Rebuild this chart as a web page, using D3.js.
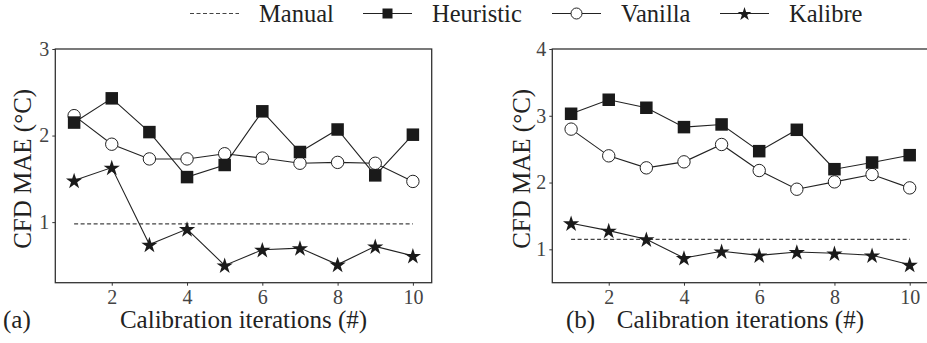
<!DOCTYPE html>
<html>
<head>
<meta charset="utf-8">
<script src="https://d3js.org/d3.v7.min.js"></script>
</head>
<body style="margin:0; background:#fff">
<div id="chart"></div>
<script>
// data
var iterations = [1, 2, 3, 4, 5, 6, 7, 8, 9, 10];

var heuristicA = [2.15, 2.43, 2.04, 1.52, 1.66, 2.28, 1.81, 2.07, 1.54, 2.01];
var vanillaA   = [2.23, 1.90, 1.73, 1.73, 1.79, 1.74, 1.68, 1.69, 1.68, 1.47];
var kalibreA   = [1.48, 1.63, 0.74, 0.92, 0.50, 0.68, 0.70, 0.51, 0.72, 0.61];
var manualA    = 0.98;

var heuristicB = [3.03, 3.24, 3.12, 2.83, 2.87, 2.47, 2.79, 2.20, 2.30, 2.41];
var vanillaB   = [2.80, 2.40, 2.22, 2.31, 2.57, 2.18, 1.90, 2.01, 2.12, 1.92];
var kalibreB   = [1.39, 1.28, 1.15, 0.87, 0.97, 0.91, 0.96, 0.94, 0.91, 0.77];
var manualB    = 1.15;

var xTicks = [2, 4, 6, 8, 10];
var yTicksA = [1, 2, 3];
var yTicksB = [1, 2, 3, 4];

var legendNames = ["Manual", "Heuristic", "Vanilla", "Kalibre"];

var w = 927, h = 343;
var ink = "#222";
var serif = "Liberation Serif";

var svg = d3.select("#chart").append("svg")
  .attr("width", w)
  .attr("height", h);

function drawMarker(g, type, x, y, big) {
  var s = big ? 12.5 : 10;
  if (type == "square") {
    g.append("rect")
      .attr("x", x - s / 2).attr("y", y - s / 2)
      .attr("width", s).attr("height", s)
      .attr("fill", "#1a1a1a");
  } else if (type == "circle") {
    g.append("circle")
      .attr("cx", x).attr("cy", y)
      .attr("r", big ? 6.2 : 5.5)
      .attr("fill", "#fff")
      .attr("stroke", ink).attr("stroke-width", 1);
  } else if (type == "star") {
    g.append("path")
      .attr("d", d3.symbol().type(d3.symbolStar).size(big ? 82 : 58)())
      .attr("transform", "translate(" + x + "," + (y + 0.7) + ")")
      .attr("fill", "#1a1a1a");
  }
}

function label(g, x, y, size, txt) {
  return g.append("text")
    .attr("x", x).attr("y", y)
    .attr("fill", ink)
    .attr("font-family", serif)
    .attr("font-size", size)
    .text(txt);
}

function panel(opt) {
  var x = d3.scaleLinear().domain([0.5, 10.5]).range([opt.left, opt.right]);
  var y = d3.scaleLinear().domain(opt.yDomain).range([opt.bottom, opt.top]);
  var g = svg.append("g");

  // axes
  var xa = g.append("g")
    .attr("transform", "translate(0," + opt.bottom + ")")
    .call(d3.axisBottom(x).tickValues(xTicks).tickSize(3).tickPadding(4).tickFormat(d3.format("d")));
  var ya = g.append("g")
    .attr("transform", "translate(" + opt.left + ",0)")
    .call(d3.axisLeft(y).tickValues(opt.yTicks).tickSize(3).tickPadding(3).tickFormat(d3.format("d")));
  [xa, ya].forEach(function(a) {
    a.attr("font-family", serif).attr("font-size", 20);
    a.select(".domain").remove();
    a.selectAll("line").attr("stroke", "#333");
    a.selectAll("text").attr("fill", "#444");
  });

  // frame
  g.append("rect")
    .attr("x", opt.left).attr("y", opt.top)
    .attr("width", opt.right - opt.left)
    .attr("height", opt.bottom - opt.top)
    .attr("fill", "none")
    .attr("stroke", "#333")
    .attr("stroke-width", 1.3);

  // manual baseline
  g.append("line")
    .attr("x1", x(1)).attr("x2", x(10))
    .attr("y1", y(opt.manual)).attr("y2", y(opt.manual))
    .attr("stroke", "#444")
    .attr("stroke-width", 1.2)
    .attr("stroke-dasharray", "4,2.5");

  var line = d3.line()
    .x(function(d, i) { return x(iterations[i]); })
    .y(function(d) { return y(d); });

  var series = [
    {vals: opt.vanilla, type: "circle"},
    {vals: opt.heuristic, type: "square"},
    {vals: opt.kalibre, type: "star"}
  ];
  series.forEach(function(s) {
    g.append("path")
      .attr("d", line(s.vals))
      .attr("fill", "none")
      .attr("stroke", ink)
      .attr("stroke-width", 1.1);
  });
  series.forEach(function(s) {
    s.vals.forEach(function(v, i) {
      drawMarker(g, s.type, x(iterations[i]), y(v), true);
    });
  });

  // axis titles
  label(g, 0, 0, 25, "CFD MAE (°C)")
    .attr("transform", "translate(" + opt.yLabelX + "," + ((opt.top + opt.bottom) / 2 + 3) + ") rotate(-90)")
    .attr("text-anchor", "middle");
  label(g, (opt.left + opt.right) / 2, 328, 25, "Calibration iterations (#)")
    .attr("text-anchor", "middle");
  label(g, opt.tagX, 328, 25, opt.tag);
}

panel({
  left: 55.3, right: 431.7, top: 49, bottom: 282.7,
  yDomain: [0.3, 3], yTicks: yTicksA,
  heuristic: heuristicA, vanilla: vanillaA, kalibre: kalibreA, manual: manualA,
  yLabelX: 31, tag: "(a)", tagX: 3
});

panel({
  left: 552.3, right: 928.5, top: 49, bottom: 282.7,
  yDomain: [0.5, 4], yTicks: yTicksB,
  heuristic: heuristicB, vanilla: vanillaB, kalibre: kalibreB, manual: manualB,
  yLabelX: 530, tag: "(b)", tagX: 566
});

// legend
var legendX = [190, 363, 552, 720];
var legendTypes = [null, "square", "circle", "star"];
var lg = svg.append("g");
legendNames.forEach(function(name, i) {
  var x0 = legendX[i], ly = 13.5;
  lg.append("line")
    .attr("x1", x0).attr("x2", x0 + 49)
    .attr("y1", ly).attr("y2", ly)
    .attr("stroke", i == 0 ? "#444" : ink)
    .attr("stroke-width", 1.1)
    .attr("stroke-dasharray", i == 0 ? "4,2.5" : null);
  if (legendTypes[i]) drawMarker(lg, legendTypes[i], x0 + 24.5, ly, false);
  label(lg, x0 + 69, 22, 24.5, name);
});
</script>
</body>
</html>
